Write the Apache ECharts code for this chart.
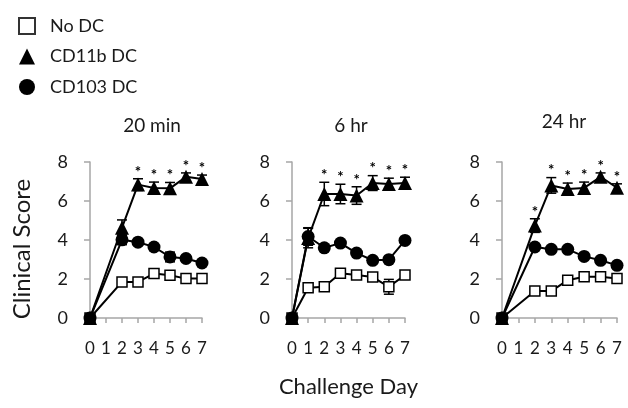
<!DOCTYPE html>
<html><head><meta charset="utf-8">
<script src="https://cdn.jsdelivr.net/npm/echarts@6/dist/echarts.min.js"></script>
<style>html,body{margin:0;padding:0;background:#fff}#c{width:628px;height:408px}</style>
</head><body><div id="c"></div>
<script>
const panelTitles = ['20 min', '6 hr', '24 hr'];
const seriesNames = ['No DC', 'CD11b DC', 'CD103 DC'];
const yTicks = [0, 2, 4, 6, 8];
const xTicks = [0, 1, 2, 3, 4, 5, 6, 7];

// Panel 1: 20 min
const days1 = [0, 2, 3, 4, 5, 6, 7];
const noDC1 = [0, 1.85, 1.85, 2.28, 2.19, 2.02, 2.02];
const noDC1Err = [0, 0.1, 0.1, 0.1, 0.1, 0.1, 0.1];
const cd11b1 = [0, 4.63, 6.84, 6.67, 6.65, 7.24, 7.13];
const cd11b1Err = [0, 0.4, 0.3, 0.3, 0.3, 0.2, 0.2];
const cd103_1 = [0, 4.01, 3.89, 3.64, 3.13, 3.05, 2.82];
const cd103_1Err = [0, 0.25, 0.15, 0.15, 0.25, 0.1, 0.1];
const sig1 = [3, 4, 5, 6, 7];

// Panel 2: 6 hr
const days2 = [0, 1, 2, 3, 4, 5, 6, 7];
const noDC2 = [0, 1.55, 1.6, 2.3, 2.2, 2.1, 1.6, 2.2];
const noDC2Err = [0, 0.1, 0.1, 0.1, 0.1, 0.1, 0.38, 0.1];
const cd11b2 = [0, 4.1, 6.36, 6.36, 6.28, 6.92, 6.87, 6.92];
const cd11b2Err = [0, 0.5, 0.6, 0.5, 0.45, 0.38, 0.3, 0.3];
const cd103_2 = [0, 4.18, 3.6, 3.84, 3.33, 2.96, 2.99, 3.98];
const cd103_2Err = [0, 0.45, 0.15, 0.1, 0.1, 0.1, 0.1, 0.1];
const sig2 = [2, 3, 4, 5, 6, 7];

// Panel 3: 24 hr
const days3 = [0, 2, 3, 4, 5, 6, 7];
const noDC3 = [0, 1.38, 1.38, 1.94, 2.11, 2.11, 2.02];
const noDC3Err = [0, 0.1, 0.1, 0.1, 0.1, 0.1, 0.1];
const cd11b3 = [0, 4.74, 6.8, 6.62, 6.67, 7.24, 6.68];
const cd11b3Err = [0, 0.35, 0.4, 0.3, 0.3, 0.2, 0.2];
const cd103_3 = [0, 3.64, 3.52, 3.52, 3.16, 2.96, 2.7];
const cd103_3Err = [0, 0.1, 0.1, 0.1, 0.1, 0.1, 0.1];
const sig3 = [2, 3, 4, 5, 6, 7];

const FONT = 'Lato';
const panels = [
  {days: days1, vals: [noDC1, cd11b1, cd103_1], errs: [noDC1Err, cd11b1Err, cd103_1Err], sig: sig1},
  {days: days2, vals: [noDC2, cd11b2, cd103_2], errs: [noDC2Err, cd11b2Err, cd103_2Err], sig: sig2},
  {days: days3, vals: [noDC3, cd11b3, cd103_3], errs: [noDC3Err, cd11b3Err, cd103_3Err], sig: sig3}
];
const gridLefts = [90, 292, 502];
const gridWidths = [112, 113, 115];
const titleX = [152, 351, 564];
const titleTop = [116, 116, 112];

function errRender(params, api) {
  const x = api.value(0), v = api.value(1), e = api.value(2);
  if (!e) return null;
  const t = api.coord([x, v + e]), b = api.coord([x, v - e]);
  const w = 5, st = {stroke: '#000', lineWidth: 1.5};
  return {type: 'group', children: [
    {type: 'line', shape: {x1: t[0], y1: t[1], x2: b[0], y2: b[1]}, style: st},
    {type: 'line', shape: {x1: t[0] - w, y1: t[1], x2: t[0] + w, y2: t[1]}, style: st},
    {type: 'line', shape: {x1: b[0] - w, y1: b[1], x2: b[0] + w, y2: b[1]}, style: st}
  ]};
}
function starRender(params, api) {
  const p = api.coord([api.value(0), api.value(1)]);
  return {type: 'text', x: p[0], y: p[1] - 7, style: {text: '*', fill: '#000', fontSize: 15, fontFamily: FONT, fontWeight: 'bold', align: 'center', verticalAlign: 'middle'}};
}

const symbols = ['rect', 'triangle', 'circle'];
const symSizes = [10, 14, 13];
const fills = ['#fff', '#000', '#000'];
const zs = [2, 3, 4];

const grid = [], xAxis = [], yAxis = [], series = [], title = [];
panels.forEach((p, k) => {
  grid.push({left: gridLefts[k], top: 162, width: gridWidths[k], height: 156});
  title.push({text: panelTitles[k], left: titleX[k], top: titleTop[k], textAlign: 'center', padding: 0,
    textStyle: {fontFamily: FONT, fontSize: 19, fontWeight: 'normal', color: '#1a1a1a'}});
  xAxis.push({type: 'value', gridIndex: k, min: xTicks[0], max: xTicks[xTicks.length - 1], interval: 1,
    splitLine: {show: false},
    axisLine: {show: true, lineStyle: {color: '#a6a6a6', width: 1.5}},
    axisTick: {show: true, length: 5, lineStyle: {color: '#a6a6a6', width: 1.5}},
    axisLabel: {fontFamily: FONT, fontSize: 17, color: '#1a1a1a', margin: 22},
    name: k === 1 ? 'Challenge Day' : '', nameLocation: 'middle', nameGap: 58,
    nameTextStyle: {fontFamily: FONT, fontSize: 22, color: '#1a1a1a'}});
  yAxis.push({type: 'value', gridIndex: k, min: yTicks[0], max: yTicks[yTicks.length - 1], interval: 2,
    splitLine: {show: false},
    axisLine: {show: true, lineStyle: {color: '#a6a6a6', width: 1.5}},
    axisTick: {show: true, length: 6, lineStyle: {color: '#a6a6a6', width: 1.5}},
    axisLabel: {fontFamily: FONT, fontSize: 18, color: '#1a1a1a', margin: 22},
    name: k === 0 ? 'Clinical Score' : '', nameLocation: 'middle', nameGap: 56,
    nameTextStyle: {fontFamily: FONT, fontSize: 24, color: '#1a1a1a', padding: [0, 18, 0, 0]}});
  // error bars
  p.vals.forEach((vals, s) => {
    series.push({type: 'custom', name: 'err' + k + s, xAxisIndex: k, yAxisIndex: k, z: 1,
      renderItem: errRender, encode: {x: 0, y: 1},
      data: p.days.map((d, i) => [d, vals[i], p.errs[s][i]])});
  });
  p.vals.forEach((vals, s) => {
    series.push({type: 'line', name: seriesNames[s], xAxisIndex: k, yAxisIndex: k, z: zs[s],
      symbol: symbols[s], symbolSize: symSizes[s], showAllSymbol: true,
      lineStyle: {color: '#000', width: 2},
      itemStyle: {color: fills[s], borderColor: '#000', borderWidth: s === 0 ? 1.5 : 0, opacity: 1},
      emphasis: {disabled: true},
      data: p.days.map((d, i) => [d, vals[i]])});
  });
  series.push({type: 'custom', name: 'sig' + k, xAxisIndex: k, yAxisIndex: k, z: 6,
    renderItem: starRender, encode: {x: 0, y: 1},
    data: p.sig.map(d => { const i = p.days.indexOf(d); return [d, p.vals[1][i] + p.errs[1][i]]; })});
});

const chart = echarts.init(document.getElementById('c'));
chart.setOption({
  animation: false,
  backgroundColor: '#fff',
  title: title,
  legend: {orient: 'vertical', left: 13, top: 12, itemWidth: 16, itemHeight: 16, itemGap: 12.5,
    selectedMode: false,
    textStyle: {fontFamily: FONT, fontSize: 18, color: '#1a1a1a', padding: [0, 0, 0, 10]},
    data: [
      {name: seriesNames[0], icon: 'rect', itemStyle: {color: '#fff', borderColor: '#333', borderWidth: 2}},
      {name: seriesNames[1], icon: 'triangle', itemStyle: {color: '#000', borderWidth: 0}},
      {name: seriesNames[2], icon: 'circle', itemStyle: {color: '#000', borderWidth: 0}}
    ]},
  grid: grid, xAxis: xAxis, yAxis: yAxis, series: series
});
</script></body></html>
